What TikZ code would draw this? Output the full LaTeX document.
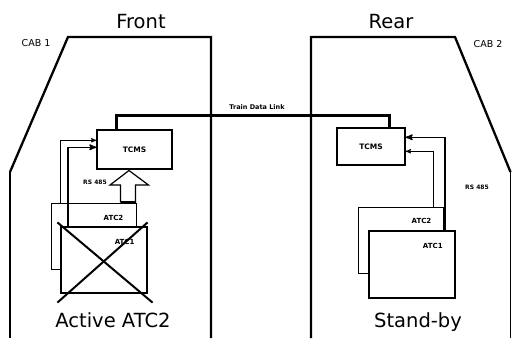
\documentclass[tikz,border=0pt]{standalone}
\usepackage{fontspec}
\setmainfont{DejaVu Sans}
\usepackage{tikz}
\usetikzlibrary{arrows,calc}
\tikzstyle{cabline}=[line width=2.3pt, line join=miter]
\tikzstyle{cabside}=[line width=1.3pt]
\tikzstyle{tcmsbox}=[rectangle, draw, line width=1.4pt, fill=white, font=\bfseries\fontsize{7.5}{9}\selectfont, inner sep=0pt]
\tikzstyle{atcbox}=[rectangle, draw, line width=0.9pt, fill=white, inner sep=0pt]
\tikzstyle{atclabel}=[font=\bfseries\fontsize{7}{8}\selectfont, inner sep=0pt]
\tikzstyle{datalink}=[line width=2.5pt]
\tikzstyle{sigline}=[->, >=stealth', line width=0.9pt]
\tikzstyle{crossline}=[line width=2pt]
\tikzstyle{smalltext}=[font=\bfseries\fontsize{6}{7}\selectfont, inner sep=0pt]
\tikzstyle{cabtext}=[font=\fontsize{9.5}{11}\selectfont, inner sep=0pt]
\tikzstyle{bigtext}=[font=\fontsize{19.5}{22}\selectfont, anchor=base, inner sep=0pt]

\begin{document}
\begin{tikzpicture}[x=1pt, y=-1pt]
        \useasboundingbox (0,0) rectangle (512,338);

        % Cabines
        \draw[cabside] (10,338) -- (10,172);
        \draw[cabline] (10,172) -- (68,37) -- (211,37) -- (211,338);
        \draw[cabline] (311,338) -- (311,37) -- (455,37) -- (510.5,172);
        \draw[cabside] (510.5,172) -- (510.5,338);

        \node[bigtext] at (141,28) {Front};
        \node[bigtext] at (391,28) {Rear};
        \node[cabtext] at (36,43) {CAB 1};
        \node[cabtext] at (488,44) {CAB 2};

        % TCMS
        \node[tcmsbox, minimum width=75pt, minimum height=39pt] (tcmsL) at (134.5,149.5) {TCMS};
        \node[tcmsbox, minimum width=68pt, minimum height=37pt] (tcmsR) at (371,146.5) {TCMS};

        \draw[datalink] ($(tcmsL.north west)+(20,0)$) |- ($(tcmsR.north east)+(-16,-12)$)
              -- ($(tcmsR.north east)+(-16,0)$);
        \node[font=\bfseries\fontsize{6.5}{8}\selectfont, inner sep=0pt] (link) at (257,107) {Train Data Link};

        % ATC, lado ativo
        \node[atcbox, minimum width=85pt, minimum height=66pt] (atcTwoL) at (93.5,236) {};
        \node[atcbox, line width=1.2pt, minimum width=86pt, minimum height=66pt] (atcOneL) at (104,260) {};
        \node[atclabel] at ($(atcTwoL.north east)+(-23,15)$) {ATC2};
        \node[atclabel] at ($(atcOneL.north east)+(-23,16)$) {ATC1};
        \draw[crossline] ($(atcOneL.north west)+(-3,-4)$) -- ($(atcOneL.south east)+(5,9)$);
        \draw[crossline] ($(atcOneL.north east)+(0,-4)$) -- ($(atcOneL.south west)+(-3,9)$);

        \draw[sigline] ($(atcTwoL.north west)+(10,0)$) |- ($(tcmsL.north west)+(0,11)$);
        \draw[sigline, line width=1.4pt] ($(atcOneL.north west)+(7.5,0)$) |- ($(tcmsL.north west)+(0,18)$);

        \draw[line width=1.2pt, fill=white] (120.5,202) -- (120.5,185) -- (110,185) -- (129,170.5)
              -- (148.5,185) -- (135.5,185) -- (135.5,202) -- cycle;
        \draw[line width=2.5pt] (120.5,202) -- (135.5,202);
        \node[smalltext] at (95,182) {RS 485};

        \node[bigtext] at (113,327.5) {Active ATC2};

        % ATC, lado reserva
        \node[atcbox, minimum width=85pt, minimum height=66pt] (atcTwoR) at (400.5,240) {};
        \node[atcbox, line width=1.6pt, minimum width=86pt, minimum height=67pt] (atcOneR) at (412,264.5) {};
        \node[atclabel] at ($(atcTwoR.north east)+(-22,14)$) {ATC2};
        \node[atclabel] at ($(atcOneR.north east)+(-23,16)$) {ATC1};

        \draw[sigline, line width=1.4pt] ($(atcOneR.north east)+(-11,0)$) |- ($(tcmsR.north east)+(0,10)$);
        \draw[sigline] ($(atcTwoR.north east)+(-10,0)$) |- ($(tcmsR.north east)+(0,24)$);
        \node[smalltext] at (477,187) {RS 485};

        \node[bigtext] at (418,327.5) {Stand-by};
      \end{tikzpicture}
\end{document}
